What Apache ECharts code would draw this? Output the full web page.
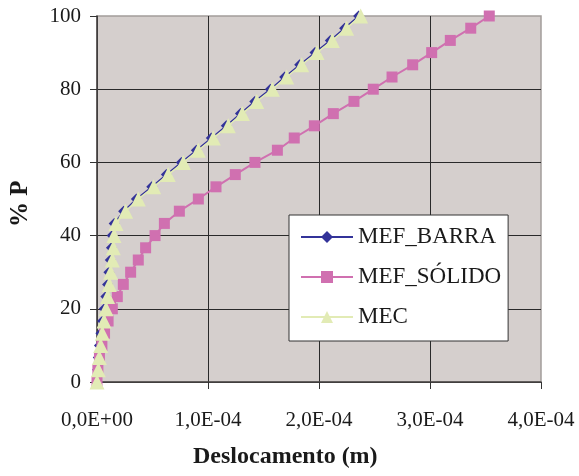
<!DOCTYPE html>
<html>
<head>
<meta charset="utf-8">
<script src="https://cdn.jsdelivr.net/npm/echarts@6/dist/echarts.min.js"></script>
<style>
  html, body { margin: 0; padding: 0; background: #ffffff; }
  #chart { width: 579px; height: 476px; }
</style>
</head>
<body>
<div id="chart"></div>
<script>
// Load level (% of P) for every computed step
const loadPercent = [0, 3.33, 6.67, 10, 13.33, 16.67, 20, 23.33, 26.67, 30, 33.33, 36.67, 40, 43.33,
  46.67, 50, 53.33, 56.67, 60, 63.33, 66.67, 70, 73.33, 76.67, 80, 83.33, 86.67, 90, 93.33, 96.67, 100];

// Displacements, in units of 1E-04 m
const dispBarra = [0, 0.005, 0.012, 0.022, 0.035, 0.050, 0.066, 0.080, 0.095, 0.107, 0.120, 0.130,
  0.137, 0.155, 0.240, 0.355, 0.493, 0.625, 0.760, 0.895, 1.030, 1.165, 1.292, 1.421, 1.562, 1.691,
  1.826, 1.964, 2.102, 2.231, 2.357];
const dispSolido = [0, 0.008, 0.022, 0.044, 0.068, 0.100, 0.138, 0.183, 0.237, 0.303, 0.372, 0.438,
  0.523, 0.607, 0.742, 0.913, 1.072, 1.246, 1.423, 1.625, 1.777, 1.958, 2.129, 2.315, 2.489, 2.658,
  2.844, 3.015, 3.183, 3.367, 3.534];
const dispMec = [0, 0.012, 0.021, 0.033, 0.048, 0.063, 0.081, 0.096, 0.111, 0.123, 0.138, 0.147,
  0.153, 0.171, 0.258, 0.372, 0.510, 0.642, 0.778, 0.913, 1.048, 1.183, 1.309, 1.439, 1.580, 1.709,
  1.844, 1.982, 2.120, 2.249, 2.375];

const seriesNames = ['MEF_BARRA', 'MEF_SÓLIDO', 'MEC'];
const xTitle = 'Deslocamento (m)';
const yTitle = '% P';

const FONT = '"Liberation Serif", "Times New Roman", serif';
const TXT = '#1a1a1a';

function pairs(xs) {
  return xs.map((x, i) => [x, loadPercent[i]]);
}

function fmtX(v) {
  if (v === 0) return '0,0E+00';
  return v.toFixed(1).replace('.', ',') + 'E-04';
}

const chart = echarts.init(document.getElementById('chart'), null, { renderer: 'canvas' });

chart.setOption({
  animation: false,
  backgroundColor: '#ffffff',
  grid: {
    left: 97, right: 38, top: 16, bottom: 94,
    show: true,
    backgroundColor: '#d5cfcd',
    borderColor: '#a39d9b',
    borderWidth: 1.5
  },
  xAxis: {
    type: 'value',
    min: 0, max: 4, interval: 1,
    axisLine: { show: true, lineStyle: { color: '#4a4646', width: 1.5 } },
    axisTick: { show: true, inside: false, length: 7, lineStyle: { color: '#333', width: 1 } },
    axisLabel: { formatter: fmtX, fontFamily: FONT, fontSize: 21, color: TXT, margin: 28 },
    splitLine: { show: true, showMaxLine: false, lineStyle: { color: '#2a2a2a', width: 1 } }
  },
  yAxis: {
    type: 'value',
    min: 0, max: 100, interval: 20,
    axisLine: { show: true, lineStyle: { color: '#4a4646', width: 1.5 } },
    axisTick: { show: true, inside: false, length: 7, lineStyle: { color: '#333', width: 1 } },
    axisLabel: { fontFamily: FONT, fontSize: 21, color: TXT, margin: 16 },
    splitLine: { show: true, showMaxLine: false, lineStyle: { color: '#2a2a2a', width: 1 } }
  },
  legend: {
    orient: 'vertical',
    left: 289, top: 215,
    padding: [10, 7, 12, 11],
    backgroundColor: '#ffffff',
    borderColor: '#333333',
    borderWidth: 1,
    borderRadius: 0,
    itemWidth: 52, itemHeight: 15,
    itemGap: 16,
    textStyle: { fontFamily: FONT, fontSize: 23, color: TXT, lineHeight: 24, padding: [0, 0, 0, 0] },
    data: seriesNames
  },
  graphic: [
    {
      type: 'text',
      left: 193, top: 445,
      style: { text: xTitle, font: 'bold 24px ' + FONT, fill: TXT }
    },
    {
      type: 'text',
      x: 8, y: 227,
      rotation: Math.PI / 2,
      style: { text: yTitle, font: 'bold 25px ' + FONT, fill: TXT }
    }
  ],
  series: [
    {
      name: seriesNames[0], type: 'line',
      data: pairs(dispBarra),
      symbol: 'diamond', symbolSize: 11,
      lineStyle: { color: '#333399', width: 1.5 },
      itemStyle: { color: '#333399' },
      z: 2
    },
    {
      name: seriesNames[1], type: 'line',
      data: pairs(dispSolido),
      symbol: 'rect', symbolSize: 11,
      lineStyle: { color: '#d070b0', width: 2 },
      itemStyle: { color: '#d070b0' },
      z: 3
    },
    {
      name: seriesNames[2], type: 'line',
      data: pairs(dispMec),
      symbol: 'triangle', symbolSize: 15,
      lineStyle: { color: '#e2ebb5', width: 1.5 },
      itemStyle: { color: '#e2ebb5' },
      z: 4
    }
  ]
});
</script>
</body>
</html>
